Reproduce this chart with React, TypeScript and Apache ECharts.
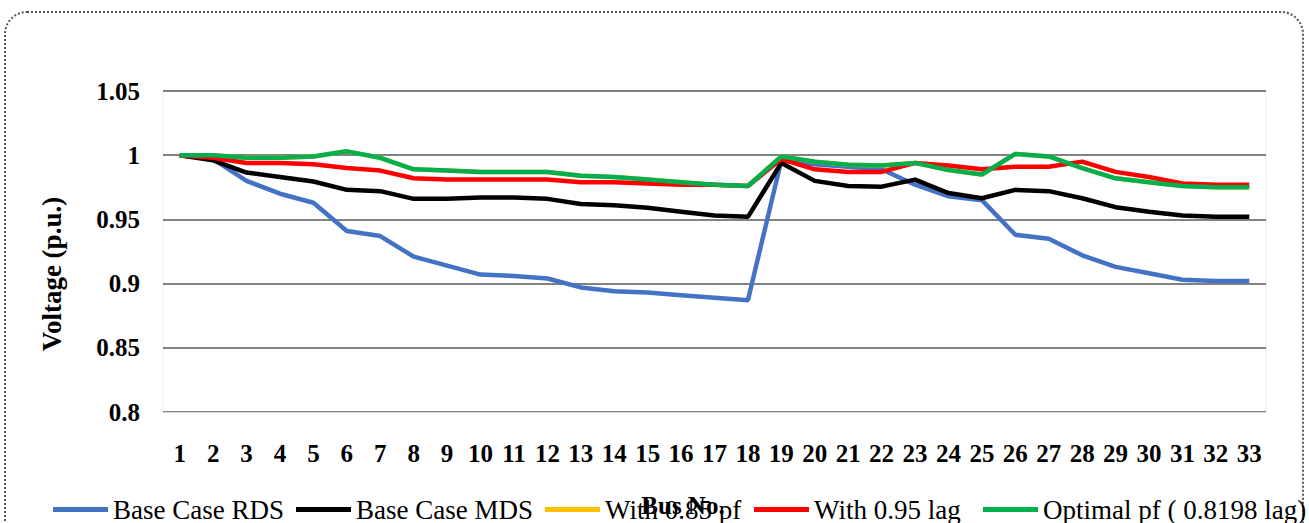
import React, { useEffect, useRef } from "react";
import * as echarts from "echarts";

const buses = Array.from({ length: 33 }, (_, i) => String(i + 1));

const baseRDS = [1.0, 0.997, 0.98, 0.97, 0.963, 0.941, 0.937, 0.921, 0.914, 0.907, 0.906, 0.904, 0.897, 0.894, 0.893, 0.891, 0.889, 0.887, 0.996, 0.993, 0.991, 0.989, 0.977, 0.968, 0.965, 0.938, 0.935, 0.922, 0.913, 0.908, 0.903, 0.902, 0.902];
const baseMDS = [1.0, 0.996, 0.9865, 0.983, 0.9795, 0.973, 0.972, 0.966, 0.966, 0.967, 0.967, 0.966, 0.962, 0.961, 0.959, 0.956, 0.953, 0.952, 0.994, 0.98, 0.976, 0.9755, 0.981, 0.9705, 0.9665, 0.973, 0.972, 0.9665, 0.9595, 0.956, 0.953, 0.952, 0.952];
const with085 = [1.0, 1.0, 0.998, 0.998, 0.999, 1.003, 0.998, 0.989, 0.988, 0.987, 0.987, 0.987, 0.984, 0.983, 0.981, 0.979, 0.977, 0.976, 0.999, 0.995, 0.9925, 0.992, 0.994, 0.9885, 0.985, 1.001, 0.999, 0.99, 0.982, 0.979, 0.976, 0.975, 0.975];
const with095 = [1.0, 0.998, 0.994, 0.994, 0.993, 0.99, 0.988, 0.982, 0.981, 0.981, 0.981, 0.981, 0.979, 0.979, 0.978, 0.977, 0.977, 0.976, 0.997, 0.989, 0.987, 0.987, 0.994, 0.992, 0.989, 0.991, 0.991, 0.995, 0.987, 0.983, 0.978, 0.977, 0.977];
const optimal = [1.0, 1.0, 0.998, 0.998, 0.999, 1.003, 0.998, 0.989, 0.988, 0.987, 0.987, 0.987, 0.984, 0.983, 0.981, 0.979, 0.977, 0.976, 0.999, 0.995, 0.9925, 0.992, 0.994, 0.9885, 0.985, 1.001, 0.999, 0.99, 0.982, 0.979, 0.976, 0.975, 0.975];

const seriesNames = ["Base Case RDS", "Base Case MDS", "With 0.85 pf", "With 0.95 lag", "Optimal pf ( 0.8198 lag)"];
const seriesColors = ["#4472C4", "#000000", "#FFC000", "#FF0000", "#00B050"];
const seriesData = [baseRDS, baseMDS, with085, with095, optimal];
const legendLefts = [48, 291, 540, 749, 978];

const FONT = '"Liberation Serif", "Times New Roman", serif';

export default function App() {
  const ref = useRef<HTMLDivElement>(null);
  useEffect(() => {
    document.body.style.margin = "0";
    const chart = echarts.init(ref.current!, null, { renderer: "svg" });
    chart.setOption({
      animation: false,
      backgroundColor: "#ffffff",
      grid: { left: 163, right: 43, top: 91, bottom: 111, show: true, borderColor: "#eeeeee", borderWidth: 1 },
      legend: seriesNames.map((name, i) => ({
        left: legendLefts[i],
        top: 491,
        itemWidth: 55,
        itemHeight: 5,
        icon: "rect",
        data: [name],
        textStyle: { fontFamily: FONT, fontSize: 27, color: "#000" },
      })),
      xAxis: {
        type: "category",
        data: buses,
        boundaryGap: true,
        axisLine: { show: true, lineStyle: { color: "#d9d9d9", width: 1 } },
        axisTick: { show: false },
        axisLabel: { fontFamily: FONT, fontWeight: "bold", fontSize: 25, color: "#000", margin: 29, interval: 0 },
      },
      yAxis: {
        type: "value",
        min: 0.8,
        max: 1.05,
        interval: 0.05,
        axisLine: { show: false },
        axisTick: { show: false },
        splitLine: { lineStyle: { color: "#595959", width: 1.5 } },
        axisLabel: {
          fontFamily: FONT,
          fontWeight: "bold",
          fontSize: 25,
          color: "#000",
          margin: 23,
          formatter: (v: number) => String(parseFloat(v.toFixed(2))),
        },
      },
      graphic: [
        {
          type: "rect",
          shape: { x: 5, y: 12, width: 1298, height: 560, r: 22 },
          style: { fill: "none", stroke: "#555555", lineWidth: 2, lineDash: [2, 2] },
          silent: true,
        },
        {
          type: "text",
          x: 52,
          y: 274,
          rotation: Math.PI / 2,
          style: { text: "Voltage (p.u.)", fontFamily: FONT, fontWeight: "bold", fontSize: 27, fill: "#000", align: "center", verticalAlign: "middle" },
        },
        {
          type: "text",
          x: 683,
          y: 505,
          style: { text: "Bus No.", fontFamily: FONT, fontWeight: "bold", fontSize: 25, fill: "#000", align: "center", verticalAlign: "middle" },
        },
      ],
      series: seriesNames.map((name, i) => ({
        name,
        type: "line",
        data: seriesData[i],
        symbol: "none",
        color: seriesColors[i],
        lineStyle: { width: 4.5, color: seriesColors[i] },
        z: 2 + i,
      })),
    });
    return () => chart.dispose();
  }, []);
  return <div ref={ref} style={{ width: 1309, height: 523 }} />;
}
